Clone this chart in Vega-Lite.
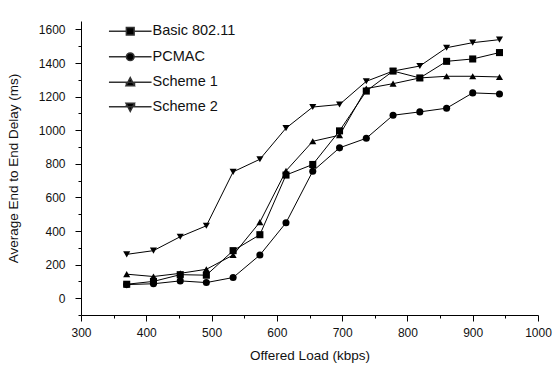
{
  "$schema": "https://vega.github.io/schema/vega-lite/v6.json",
  "width": 457,
  "height": 294,
  "autosize": {"type": "none"},
  "padding": {"left": 81, "top": 21, "right": 18, "bottom": 53},
  "background": "white",
  "config": {
    "view": {"stroke": null},
    "font": "Liberation Sans",
    "axis": {
      "domainColor": "black",
      "tickColor": "black",
      "labelColor": "#111",
      "titleColor": "#111",
      "labelFont": "Liberation Sans",
      "titleFont": "Liberation Sans",
      "labelFontSize": 12,
      "titleFontSize": 13.5,
      "titleFontWeight": "normal",
      "grid": false
    }
  },
  "data": {
    "values": [
      {"load": 370, "delay": 83, "series": "Basic 802.11"},
      {"load": 411, "delay": 100, "series": "Basic 802.11"},
      {"load": 452, "delay": 140, "series": "Basic 802.11"},
      {"load": 492, "delay": 137, "series": "Basic 802.11"},
      {"load": 533, "delay": 283, "series": "Basic 802.11"},
      {"load": 574, "delay": 378, "series": "Basic 802.11"},
      {"load": 614, "delay": 733, "series": "Basic 802.11"},
      {"load": 655, "delay": 796, "series": "Basic 802.11"},
      {"load": 696, "delay": 996, "series": "Basic 802.11"},
      {"load": 737, "delay": 1233, "series": "Basic 802.11"},
      {"load": 778, "delay": 1352, "series": "Basic 802.11"},
      {"load": 819, "delay": 1311, "series": "Basic 802.11"},
      {"load": 860, "delay": 1410, "series": "Basic 802.11"},
      {"load": 900, "delay": 1424, "series": "Basic 802.11"},
      {"load": 941, "delay": 1462, "series": "Basic 802.11"},
      {"load": 370, "delay": 81, "series": "PCMAC"},
      {"load": 411, "delay": 86, "series": "PCMAC"},
      {"load": 452, "delay": 103, "series": "PCMAC"},
      {"load": 492, "delay": 93, "series": "PCMAC"},
      {"load": 533, "delay": 123, "series": "PCMAC"},
      {"load": 574, "delay": 257, "series": "PCMAC"},
      {"load": 614, "delay": 449, "series": "PCMAC"},
      {"load": 655, "delay": 756, "series": "PCMAC"},
      {"load": 696, "delay": 895, "series": "PCMAC"},
      {"load": 737, "delay": 952, "series": "PCMAC"},
      {"load": 778, "delay": 1089, "series": "PCMAC"},
      {"load": 819, "delay": 1109, "series": "PCMAC"},
      {"load": 860, "delay": 1131, "series": "PCMAC"},
      {"load": 900, "delay": 1222, "series": "PCMAC"},
      {"load": 941, "delay": 1216, "series": "PCMAC"},
      {"load": 370, "delay": 143, "series": "Scheme 1"},
      {"load": 411, "delay": 129, "series": "Scheme 1"},
      {"load": 452, "delay": 148, "series": "Scheme 1"},
      {"load": 492, "delay": 172, "series": "Scheme 1"},
      {"load": 533, "delay": 257, "series": "Scheme 1"},
      {"load": 574, "delay": 453, "series": "Scheme 1"},
      {"load": 614, "delay": 758, "series": "Scheme 1"},
      {"load": 655, "delay": 934, "series": "Scheme 1"},
      {"load": 696, "delay": 970, "series": "Scheme 1"},
      {"load": 737, "delay": 1248, "series": "Scheme 1"},
      {"load": 778, "delay": 1277, "series": "Scheme 1"},
      {"load": 819, "delay": 1311, "series": "Scheme 1"},
      {"load": 860, "delay": 1321, "series": "Scheme 1"},
      {"load": 900, "delay": 1321, "series": "Scheme 1"},
      {"load": 941, "delay": 1317, "series": "Scheme 1"},
      {"load": 370, "delay": 261, "series": "Scheme 2"},
      {"load": 411, "delay": 283, "series": "Scheme 2"},
      {"load": 452, "delay": 366, "series": "Scheme 2"},
      {"load": 492, "delay": 431, "series": "Scheme 2"},
      {"load": 533, "delay": 752, "series": "Scheme 2"},
      {"load": 574, "delay": 827, "series": "Scheme 2"},
      {"load": 614, "delay": 1012, "series": "Scheme 2"},
      {"load": 655, "delay": 1138, "series": "Scheme 2"},
      {"load": 696, "delay": 1153, "series": "Scheme 2"},
      {"load": 737, "delay": 1291, "series": "Scheme 2"},
      {"load": 778, "delay": 1352, "series": "Scheme 2"},
      {"load": 819, "delay": 1382, "series": "Scheme 2"},
      {"load": 860, "delay": 1491, "series": "Scheme 2"},
      {"load": 900, "delay": 1521, "series": "Scheme 2"},
      {"load": 941, "delay": 1539, "series": "Scheme 2"}
    ]
  },
  "encoding": {
    "x": {
      "field": "load",
      "type": "quantitative",
      "title": "Offered Load (kbps)",
      "scale": {"domain": [300, 1000], "nice": false, "zero": false},
      "axis": {
        "values": [300, 350, 400, 450, 500, 550, 600, 650, 700, 750, 800, 850, 900, 950, 1000],
        "format": "d",
        "labelExpr": "datum.value % 100 === 0 ? datum.label : ''",
        "tickSize": {"condition": {"test": "datum.value % 100 === 0", "value": 6}, "value": 3},
        "labelPadding": 6,
        "titlePadding": 10,
        "labelFlush": false,
        "labelOverlap": false
      }
    },
    "y": {
      "field": "delay",
      "type": "quantitative",
      "title": "Average End to End Delay (ms)",
      "scale": {"domain": [-100, 1650], "nice": false, "zero": false},
      "axis": {
        "values": [-100, 0, 100, 200, 300, 400, 500, 600, 700, 800, 900, 1000, 1100, 1200, 1300, 1400, 1500, 1600],
        "labelExpr": "datum.value % 200 === 0 ? datum.label : ''",
        "tickSize": {"condition": {"test": "datum.value % 200 === 0", "value": 6}, "value": 3},
        "labelPadding": 10,
        "titlePadding": 18,
        "labelFlush": false,
        "labelOverlap": false,
        "format": "d"
      }
    }
  },
  "layer": [
    {
      "transform": [{"filter": "false"}],
      "mark": {"type": "point", "filled": false, "stroke": "#333", "fill": "black", "strokeWidth": 1, "opacity": 1},
      "encoding": {
        "shape": {
          "field": "series",
          "scale": {
            "domain": ["Basic 802.11", "PCMAC", "Scheme 1", "Scheme 2"],
            "range": [
              "M-5.5,0H-1V-1H1V0H5.5H1V1H-1V0Z",
              "M-5.5,0H-1A1,1 0 1,1 1,0H5.5H1A1,1 0 1,1 -1,0Z",
              "M-5.5,0H-1V0.9H1.1L0,-1.2L-1.1,0.9H1.1V0H5.5Z",
              "M-5.5,0H-1V-0.9H1.1L0,1.2L-1.1,-0.9H1.1V0H5.5Z"
            ]
          },
          "legend": {
            "title": null,
            "orient": "none",
            "legendX": 42,
            "legendY": 3,
            "padding": 0,
            "symbolSize": 60,
            "labelOffset": 15,
            "labelFont": "Liberation Sans",
            "labelFontSize": 14.5,
            "labelColor": "#111",
            "rowPadding": 9.5,
            "labelLimit": 200
          }
        }
      }
    },
    {
      "mark": {"type": "line", "color": "black", "strokeWidth": 1},
      "encoding": {"detail": {"field": "series"}}
    },
    {
      "mark": {"type": "point", "filled": true, "color": "black", "opacity": 1, "size": 50},
      "encoding": {
        "shape": {
          "field": "series",
          "scale": {
            "domain": ["Basic 802.11", "PCMAC", "Scheme 1", "Scheme 2"],
            "range": ["square", "circle", "triangle-up", "triangle-down"]
          },
          "legend": null
        }
      }
    }
  ],
  "resolve": {"scale": {"shape": "independent"}, "legend": {"shape": "independent"}}
}
